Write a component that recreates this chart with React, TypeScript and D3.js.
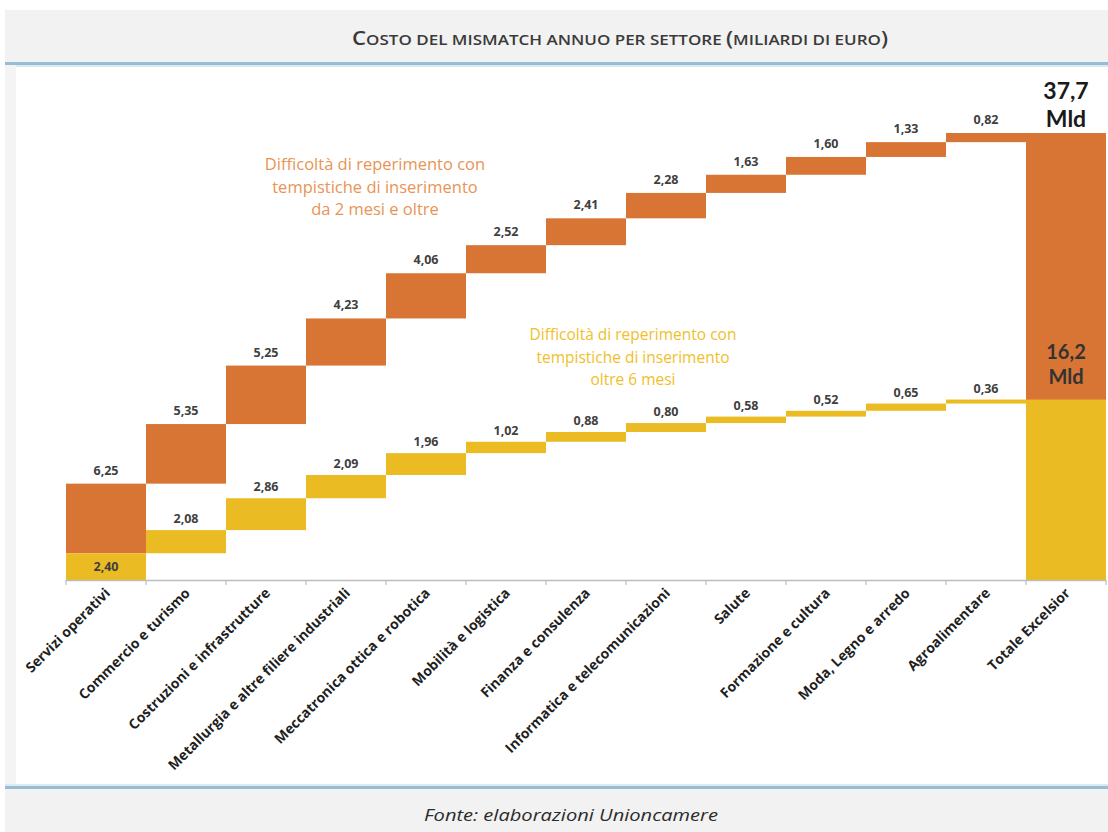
import React from "react";
import * as d3 from "d3";

const categories = [
  "Servizi operativi",
  "Commercio e turismo",
  "Costruzioni e infrastrutture",
  "Metallurgia e altre filiere industriali",
  "Meccatronica ottica e robotica",
  "Mobilità e logistica",
  "Finanza e consulenza",
  "Informatica e telecomunicazioni",
  "Salute",
  "Formazione e cultura",
  "Moda, Legno e arredo",
  "Agroalimentare",
];
const totalCategory = "Totale Excelsior";
// Difficoltà di reperimento con tempistiche da 2 mesi e oltre
const orangeValues = [6.25, 5.35, 5.25, 4.23, 4.06, 2.52, 2.41, 2.28, 1.63, 1.6, 1.33, 0.82];
// Difficoltà di reperimento con tempistiche oltre 6 mesi
const yellowValues = [2.4, 2.08, 2.86, 2.09, 1.96, 1.02, 0.88, 0.8, 0.58, 0.52, 0.65, 0.36];
const orangeTotalLabel = ["37,7", "Mld"];
const yellowTotalLabel = ["16,2", "Mld"];
const orangeNote = ["Difficoltà di reperimento con", "tempistiche di inserimento", "da 2 mesi e oltre"];
const yellowNote = ["Difficoltà di reperimento con", "tempistiche di inserimento", "oltre 6 mesi"];
const titleParts = ["C", "OSTO DEL MISMATCH ANNUO PER SETTORE ", "(", "MILIARDI DI EURO", ")"];
const sourceText = "Fonte: elaborazioni Unioncamere";

const ORANGE = "#d87535";
const YELLOW = "#ebbb24";
const W = 1108;
const H = 832;

const fmt = (v: number) => d3.format(".2f")(v).replace(".", ",");

export default function App() {
  const allCats = [...categories, totalCategory];
  const x = d3.scaleBand<string>().domain(allCats).range([66, 1106]).padding(0);
  const bw = x.bandwidth();

  // yellow waterfall from 0, orange waterfall starts above first yellow bar
  const yellowEnds = d3.cumsum(yellowValues);
  const yellowStarts = yellowValues.map((v, i) => yellowEnds[i] - v);
  const orangeBase = yellowValues[0];
  const orangeEnds = Array.from(d3.cumsum(orangeValues), (v) => v + orangeBase);
  const orangeStarts = orangeValues.map((v, i) => orangeEnds[i] - v);
  const orangeTotal = orangeEnds[orangeEnds.length - 1];
  const yellowTotal = yellowEnds[yellowEnds.length - 1];

  const y = d3.scaleLinear().domain([0, orangeTotal]).range([580, 133]);
  const y0 = y(0);

  const font = "'Open Sans', sans-serif";
  const bigFont = "'Lato', 'Open Sans', sans-serif";

  return (
    <div>
      <style>{"body{margin:0;}"}</style>
      <svg width={W} height={H} style={{ display: "block", background: "#ffffff" }}>
        {/* title band */}
        <rect x={5} y={10} width={W - 5} height={53} fill="#f2f2f2" />
        <rect x={5} y={62} width={W - 5} height={3} fill="#97bdd6" />
        <rect x={5} y={65} width={W - 5} height={2} fill="#dbe9f2" />
        {/* left frame strip */}
        <rect x={5} y={65} width={11} height={720} fill="#f4f4f4" />
        {/* footer band */}
        <rect x={5} y={784} width={W - 5} height={2} fill="#dbe9f2" />
        <rect x={5} y={786} width={W - 5} height={3} fill="#97bdd6" />
        <rect x={5} y={789} width={W - 5} height={H - 789} fill="#f2f2f2" />

        <text
          x={620}
          y={45}
          textAnchor="middle"
          fill="#3a3a3a"
          fontFamily="'Open Sans', sans-serif"
          fontWeight={600}
          textLength={536}
          lengthAdjust="spacingAndGlyphs"
        >
          <tspan fontSize={19}>{titleParts[0]}</tspan>
          <tspan fontSize={14.5}>{titleParts[1]}</tspan>
          <tspan fontSize={19}>{titleParts[2]}</tspan>
          <tspan fontSize={14.5}>{titleParts[3]}</tspan>
          <tspan fontSize={19}>{titleParts[4]}</tspan>
        </text>

        <text
          x={571}
          y={821}
          textAnchor="middle"
          fill="#2b2b2b"
          fontFamily="'Open Sans', sans-serif"
          fontStyle="italic"
          fontSize={17}
          textLength={294}
          lengthAdjust="spacingAndGlyphs"
        >
          {sourceText}
        </text>

        {/* orange waterfall */}
        {categories.map((c, i) => (
          <rect
            key={"o" + i}
            x={x(c)}
            y={y(orangeEnds[i])}
            width={bw}
            height={y(orangeStarts[i]) - y(orangeEnds[i])}
            fill={ORANGE}
          />
        ))}
        <rect x={x(totalCategory)} y={y(orangeTotal)} width={bw} height={y0 - y(orangeTotal)} fill={ORANGE} />

        {/* yellow waterfall */}
        {categories.map((c, i) => (
          <rect
            key={"y" + i}
            x={x(c)}
            y={y(yellowEnds[i])}
            width={bw}
            height={y(yellowStarts[i]) - y(yellowEnds[i])}
            fill={YELLOW}
          />
        ))}
        <rect x={x(totalCategory)} y={y(yellowTotal)} width={bw} height={y0 - y(yellowTotal)} fill={YELLOW} />

        {/* value labels */}
        {categories.map((c, i) => (
          <text
            key={"ol" + i}
            x={(x(c) as number) + bw / 2}
            y={y(orangeEnds[i]) - 9}
            textAnchor="middle"
            fontFamily={font}
            fontWeight={700}
            fontSize={12.5}
            fill="#3f3f3f"
          >
            {fmt(orangeValues[i])}
          </text>
        ))}
        {categories.map((c, i) => (
          <text
            key={"yl" + i}
            x={(x(c) as number) + bw / 2}
            y={i === 0 ? (y(yellowEnds[i]) + y(yellowStarts[i])) / 2 + 4.5 : y(yellowEnds[i]) - 7}
            textAnchor="middle"
            fontFamily={font}
            fontWeight={700}
            fontSize={12.5}
            fill="#3f3f3f"
          >
            {fmt(yellowValues[i])}
          </text>
        ))}

        {/* total labels */}
        {orangeTotalLabel.map((t, k) => (
          <text
            key={"ot" + k}
            x={(x(totalCategory) as number) + bw / 2}
            y={99 + k * 27.5}
            textAnchor="middle"
            fontFamily={bigFont}
            fontWeight={700}
            fontSize={23}
            fill="#1a1a1a"
          >
            {t}
          </text>
        ))}
        {yellowTotalLabel.map((t, k) => (
          <text
            key={"yt" + k}
            x={(x(totalCategory) as number) + bw / 2}
            y={359 + k * 24.5}
            textAnchor="middle"
            fontFamily={bigFont}
            fontWeight={700}
            fontSize={20}
            fill="#333333"
          >
            {t}
          </text>
        ))}

        {/* notes */}
        {orangeNote.map((t, k) => (
          <text
            key={"on" + k}
            x={375}
            y={170 + k * 22.5}
            textAnchor="middle"
            fontFamily={font}
            fontSize={16.5}
            fill="#e89455"
          >
            {t}
          </text>
        ))}
        {yellowNote.map((t, k) => (
          <text
            key={"yn" + k}
            x={633}
            y={340 + k * 22.5}
            textAnchor="middle"
            fontFamily={font}
            fontSize={15.5}
            fill="#efc02a"
          >
            {t}
          </text>
        ))}

        {/* x axis */}
        <line x1={66} x2={1106} y1={y0 + 0.5} y2={y0 + 0.5} stroke="#bdbdbd" strokeWidth={1.5} />
        {allCats.concat([""]).map((c, i) => {
          const tx = 66 + i * bw;
          return <line key={"t" + i} x1={tx} x2={tx} y1={y0} y2={y0 + 5} stroke="#bdbdbd" strokeWidth={1.2} />;
        })}
        {allCats.map((c, i) => (
          <text
            key={"xl" + i}
            transform={`translate(${(x(c) as number) + bw / 2 + 5},${y0 + 14}) rotate(-45)`}
            textAnchor="end"
            fontFamily={font}
            fontWeight={700}
            fontSize={14}
            fill="#1f1f1f"
          >
            {c}
          </text>
        ))}
      </svg>
    </div>
  );
}
